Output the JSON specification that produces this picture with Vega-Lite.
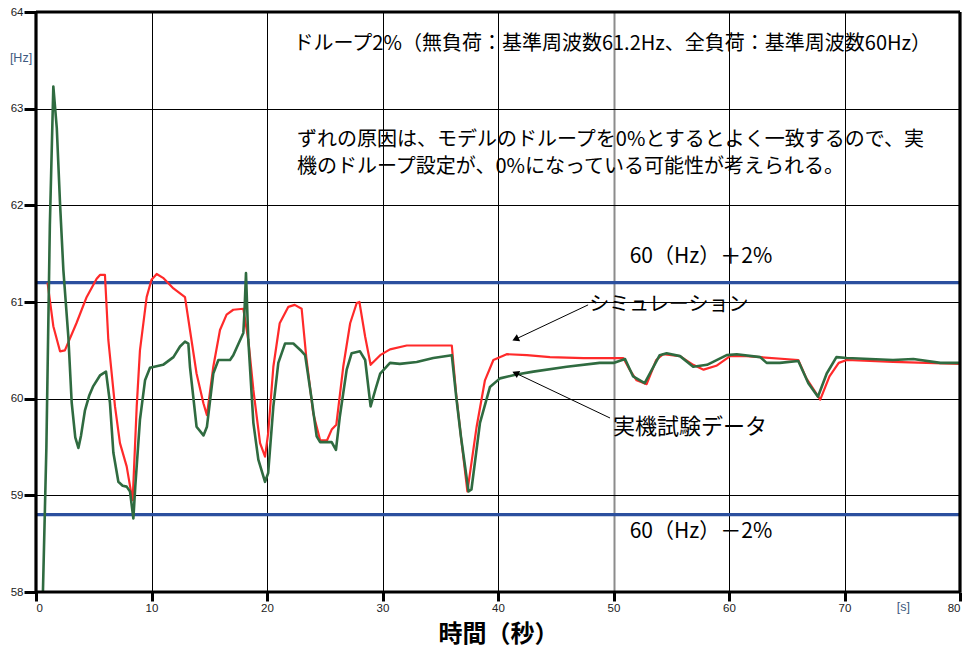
{
  "$schema": "https://vega.github.io/schema/vega-lite/v6.json",
  "width": 924,
  "height": 580,
  "autosize": {"type": "none"},
  "padding": {"left": 36, "top": 12, "right": 6, "bottom": 63},
  "background": "white",
  "config": {
    "font": "Noto Sans CJK JP",
    "view": {"stroke": null},
    "axis": {
      "domain": false,
      "labelFont": "Liberation Sans",
      "labelFontSize": 11.5,
      "labelColor": "#222222",
      "tickColor": "black",
      "grid": true,
      "gridColor": "black",
      "gridWidth": 1,
      "gridOpacity": 1
    }
  },
  "datasets": {
    "sim": [
      {"t": 1.0, "f": 61.2}, {"t": 1.5, "f": 60.75}, {"t": 2.08, "f": 60.49}, {"t": 2.5, "f": 60.5},
      {"t": 3.5, "f": 60.78}, {"t": 4.38, "f": 61.05}, {"t": 5.25, "f": 61.24}, {"t": 5.54, "f": 61.28},
      {"t": 5.97, "f": 61.28}, {"t": 6.26, "f": 60.61}, {"t": 6.84, "f": 59.92}, {"t": 7.27, "f": 59.54},
      {"t": 7.85, "f": 59.3}, {"t": 8.28, "f": 59.0}, {"t": 8.37, "f": 58.95}, {"t": 8.72, "f": 59.92},
      {"t": 9.0, "f": 60.5}, {"t": 9.58, "f": 61.05}, {"t": 10.0, "f": 61.23}, {"t": 10.45, "f": 61.29},
      {"t": 11.0, "f": 61.25}, {"t": 11.9, "f": 61.14}, {"t": 12.9, "f": 61.05}, {"t": 13.33, "f": 60.71},
      {"t": 13.9, "f": 60.26}, {"t": 14.5, "f": 59.95}, {"t": 14.8, "f": 59.83}, {"t": 15.35, "f": 60.33},
      {"t": 15.93, "f": 60.71}, {"t": 16.5, "f": 60.87}, {"t": 17.08, "f": 60.92}, {"t": 17.95, "f": 60.93},
      {"t": 18.38, "f": 60.61}, {"t": 18.82, "f": 60.09}, {"t": 19.4, "f": 59.54}, {"t": 19.83, "f": 59.4},
      {"t": 20.1, "f": 59.64}, {"t": 20.55, "f": 60.33}, {"t": 21.1, "f": 60.78}, {"t": 21.85, "f": 60.95},
      {"t": 22.4, "f": 60.97}, {"t": 23.0, "f": 60.93}, {"t": 23.4, "f": 60.43}, {"t": 24.0, "f": 59.85},
      {"t": 24.6, "f": 59.57}, {"t": 25.2, "f": 59.57}, {"t": 25.6, "f": 59.68}, {"t": 26.0, "f": 59.73},
      {"t": 26.6, "f": 60.33}, {"t": 27.2, "f": 60.78}, {"t": 27.77, "f": 60.99}, {"t": 28.0, "f": 61.0},
      {"t": 28.5, "f": 60.64}, {"t": 28.97, "f": 60.35}, {"t": 29.8, "f": 60.45}, {"t": 30.65, "f": 60.51},
      {"t": 32.1, "f": 60.55}, {"t": 34.4, "f": 60.55}, {"t": 36.0, "f": 60.55}, {"t": 36.4, "f": 60.02},
      {"t": 36.8, "f": 59.6}, {"t": 37.35, "f": 59.04}, {"t": 38.15, "f": 59.71}, {"t": 38.87, "f": 60.19},
      {"t": 39.6, "f": 60.4}, {"t": 40.75, "f": 60.46}, {"t": 42.5, "f": 60.45}, {"t": 44.5, "f": 60.43},
      {"t": 47.4, "f": 60.42}, {"t": 50.85, "f": 60.42}, {"t": 51.4, "f": 60.3}, {"t": 52.0, "f": 60.19},
      {"t": 52.87, "f": 60.15}, {"t": 53.7, "f": 60.4}, {"t": 54.3, "f": 60.46}, {"t": 55.76, "f": 60.44},
      {"t": 56.9, "f": 60.35}, {"t": 57.8, "f": 60.3}, {"t": 58.9, "f": 60.34}, {"t": 60.1, "f": 60.44},
      {"t": 61.5, "f": 60.44}, {"t": 66.0, "f": 60.4}, {"t": 66.7, "f": 60.21}, {"t": 67.9, "f": 59.99},
      {"t": 68.7, "f": 60.23}, {"t": 69.5, "f": 60.37}, {"t": 70.2, "f": 60.4}, {"t": 74.2, "f": 60.38},
      {"t": 80.0, "f": 60.36}
    ],
    "actual": [
      {"t": 0.6, "f": 58.0}, {"t": 0.9, "f": 59.5}, {"t": 1.2, "f": 61.8}, {"t": 1.5, "f": 63.23},
      {"t": 1.8, "f": 62.8}, {"t": 2.08, "f": 62.02}, {"t": 2.37, "f": 61.33}, {"t": 2.8, "f": 60.64},
      {"t": 3.09, "f": 59.96}, {"t": 3.4, "f": 59.6}, {"t": 3.67, "f": 59.49}, {"t": 3.9, "f": 59.62},
      {"t": 4.24, "f": 59.88}, {"t": 4.6, "f": 60.03}, {"t": 4.96, "f": 60.13}, {"t": 5.54, "f": 60.24},
      {"t": 6.06, "f": 60.28}, {"t": 6.4, "f": 59.96}, {"t": 6.7, "f": 59.44}, {"t": 7.13, "f": 59.14},
      {"t": 7.5, "f": 59.1}, {"t": 7.85, "f": 59.09}, {"t": 8.14, "f": 59.04}, {"t": 8.43, "f": 58.76},
      {"t": 8.6, "f": 59.1}, {"t": 9.0, "f": 59.78}, {"t": 9.44, "f": 60.19}, {"t": 9.87, "f": 60.32},
      {"t": 11.0, "f": 60.35}, {"t": 11.9, "f": 60.43}, {"t": 12.47, "f": 60.54}, {"t": 12.9, "f": 60.59},
      {"t": 13.19, "f": 60.57}, {"t": 13.33, "f": 60.33}, {"t": 13.9, "f": 59.71}, {"t": 14.5, "f": 59.62},
      {"t": 14.8, "f": 59.71}, {"t": 15.35, "f": 60.26}, {"t": 15.79, "f": 60.4}, {"t": 16.8, "f": 60.4},
      {"t": 17.08, "f": 60.45}, {"t": 17.95, "f": 60.68}, {"t": 18.05, "f": 60.9}, {"t": 18.18, "f": 61.3},
      {"t": 18.38, "f": 60.61}, {"t": 18.82, "f": 59.75}, {"t": 19.25, "f": 59.37}, {"t": 19.83, "f": 59.14},
      {"t": 20.1, "f": 59.23}, {"t": 20.55, "f": 59.92}, {"t": 20.98, "f": 60.37}, {"t": 21.56, "f": 60.57},
      {"t": 22.28, "f": 60.57}, {"t": 23.0, "f": 60.49}, {"t": 23.3, "f": 60.45}, {"t": 23.87, "f": 59.99},
      {"t": 24.3, "f": 59.61}, {"t": 24.6, "f": 59.55}, {"t": 25.6, "f": 59.55}, {"t": 25.97, "f": 59.47},
      {"t": 26.3, "f": 59.81}, {"t": 26.9, "f": 60.3}, {"t": 27.33, "f": 60.47}, {"t": 28.05, "f": 60.49},
      {"t": 28.5, "f": 60.4}, {"t": 28.97, "f": 59.92}, {"t": 29.4, "f": 60.1}, {"t": 29.8, "f": 60.26},
      {"t": 30.65, "f": 60.37}, {"t": 31.5, "f": 60.36}, {"t": 32.96, "f": 60.38}, {"t": 34.4, "f": 60.42},
      {"t": 36.0, "f": 60.45}, {"t": 36.4, "f": 60.0}, {"t": 36.8, "f": 59.6}, {"t": 37.45, "f": 59.04},
      {"t": 37.7, "f": 59.06}, {"t": 38.44, "f": 59.75}, {"t": 39.3, "f": 60.12}, {"t": 40.17, "f": 60.21},
      {"t": 41.6, "f": 60.25}, {"t": 43.06, "f": 60.28}, {"t": 45.95, "f": 60.33}, {"t": 48.8, "f": 60.37},
      {"t": 50.0, "f": 60.37}, {"t": 51.0, "f": 60.41}, {"t": 51.7, "f": 60.23}, {"t": 52.7, "f": 60.16},
      {"t": 54.0, "f": 60.45}, {"t": 54.6, "f": 60.47}, {"t": 55.76, "f": 60.44}, {"t": 56.9, "f": 60.33},
      {"t": 58.1, "f": 60.35}, {"t": 59.8, "f": 60.45}, {"t": 60.67, "f": 60.46}, {"t": 62.7, "f": 60.43},
      {"t": 63.26, "f": 60.37}, {"t": 64.4, "f": 60.37}, {"t": 66.0, "f": 60.39}, {"t": 66.87, "f": 60.16},
      {"t": 67.7, "f": 60.02}, {"t": 68.46, "f": 60.26}, {"t": 69.3, "f": 60.43}, {"t": 70.2, "f": 60.42},
      {"t": 74.2, "f": 60.4}, {"t": 75.96, "f": 60.41}, {"t": 78.3, "f": 60.37}, {"t": 80.0, "f": 60.37}
    ],
    "limits": [{"f": 61.2}, {"f": 58.8}],
    "frameX": [{"t": 0}, {"t": 80}],
    "frameY": [{"f": 58}, {"f": 64}],
    "arrows": [
      {"name": "sim", "t": 47.8, "f": 60.97, "t2": 41.6, "f2": 60.62},
      {"name": "actual", "t": 49.7, "f": 59.8, "t2": 41.6, "f2": 60.26}
    ],
    "notes": [
      {"kind": "note", "t": 22.3, "f": 63.67, "label": "ドループ2%（無負荷：基準周波数61.2Hz、全負荷：基準周波数60Hz）"},
      {"kind": "note", "t": 22.6, "f": 62.68, "label": "ずれの原因は、モデルのドループを0%とするとよく一致するので、実"},
      {"kind": "note", "t": 22.6, "f": 62.4, "label": "機のドループ設定が、0%になっている可能性が考えられる。"},
      {"kind": "note", "t": 47.9, "f": 60.97, "label": "シミュレーション"},
      {"kind": "limit", "t": 51.4, "f": 61.47, "label": "60（Hz）＋2%"},
      {"kind": "limit", "t": 51.4, "f": 58.62, "label": "60（Hz）－2%"},
      {"kind": "callout", "t": 49.95, "f": 59.71, "label": "実機試験データ"}
    ],
    "units": [
      {"t": -1.3, "f": 63.52, "label": "[Hz]"},
      {"t": 75.1, "f": 57.845, "label": "[s]"}
    ]
  },
  "encoding": {
    "x": {
      "field": "t",
      "type": "quantitative",
      "scale": {"domain": [0, 80], "nice": false, "zero": false},
      "axis": {
        "values": [0, 10, 20, 30, 40, 50, 60, 70, 80],
        "tickSize": 9,
        "tickWidth": 3,
        "labelPadding": 1,
        "title": "時間（秒）",
        "titleFont": "Noto Sans CJK JP",
        "titleFontSize": 24,
        "titleFontWeight": "bold",
        "titleColor": "black",
        "titlePadding": 9,
        "gridColor": {"condition": {"test": "datum.value === 50", "value": "#8c8c8c"}, "value": "black"},
        "gridWidth": {"condition": {"test": "datum.value === 50", "value": 2}, "value": 1}
      }
    },
    "y": {
      "field": "f",
      "type": "quantitative",
      "scale": {"domain": [58, 64], "nice": false, "zero": false},
      "axis": {
        "values": [58, 59, 60, 61, 62, 63, 64],
        "tickSize": 12,
        "tickWidth": 3,
        "labelPadding": 1,
        "title": null
      }
    }
  },
  "layer": [
    {
      "data": {"name": "limits"},
      "mark": {"type": "rule", "color": "#2b4f9e", "strokeWidth": 3.2},
      "encoding": {"x": null}
    },
    {
      "data": {"name": "sim"},
      "mark": {"type": "line", "color": "#ff2a2a", "strokeWidth": 2.2, "strokeJoin": "round"}
    },
    {
      "data": {"name": "actual"},
      "mark": {"type": "line", "color": "#2f6b40", "strokeWidth": 2.6, "strokeJoin": "round"}
    },
    {
      "data": {"name": "frameX"},
      "mark": {"type": "rule", "color": "black", "strokeWidth": 3.2},
      "encoding": {"y": null}
    },
    {
      "data": {"name": "frameY"},
      "mark": {"type": "rule", "color": "black", "strokeWidth": 3.2},
      "encoding": {"x": null}
    },
    {
      "data": {"name": "arrows"},
      "mark": {"type": "rule", "color": "black", "strokeWidth": 1},
      "encoding": {
        "x2": {"field": "t2"},
        "y2": {"field": "f2"}
      }
    },
    {
      "data": {"name": "arrows"},
      "transform": [{"filter": "datum.name === 'sim'"}],
      "mark": {"type": "point", "shape": "triangle", "filled": true, "color": "black", "size": 60, "angle": 245, "opacity": 1},
      "encoding": {
        "x": {"field": "t2", "type": "quantitative"},
        "y": {"field": "f2", "type": "quantitative"}
      }
    },
    {
      "data": {"name": "arrows"},
      "transform": [{"filter": "datum.name === 'actual'"}],
      "mark": {"type": "point", "shape": "triangle", "filled": true, "color": "black", "size": 60, "angle": 295, "opacity": 1},
      "encoding": {
        "x": {"field": "t2", "type": "quantitative"},
        "y": {"field": "f2", "type": "quantitative"}
      }
    },
    {
      "data": {"name": "notes"},
      "transform": [{"filter": "datum.kind === 'note'"}],
      "mark": {"type": "text", "align": "left", "baseline": "middle", "fontSize": 20, "color": "black"},
      "encoding": {"text": {"field": "label"}}
    },
    {
      "data": {"name": "notes"},
      "transform": [{"filter": "datum.kind === 'limit'"}],
      "mark": {"type": "text", "align": "left", "baseline": "middle", "fontSize": 21, "color": "black"},
      "encoding": {"text": {"field": "label"}}
    },
    {
      "data": {"name": "notes"},
      "transform": [{"filter": "datum.kind === 'callout'"}],
      "mark": {"type": "text", "align": "left", "baseline": "middle", "fontSize": 22, "color": "black"},
      "encoding": {"text": {"field": "label"}}
    },
    {
      "data": {"name": "units"},
      "mark": {"type": "text", "align": "center", "baseline": "middle", "fontSize": 12.5, "font": "Liberation Sans", "color": "#3d5a80"},
      "encoding": {"text": {"field": "label"}}
    }
  ]
}
